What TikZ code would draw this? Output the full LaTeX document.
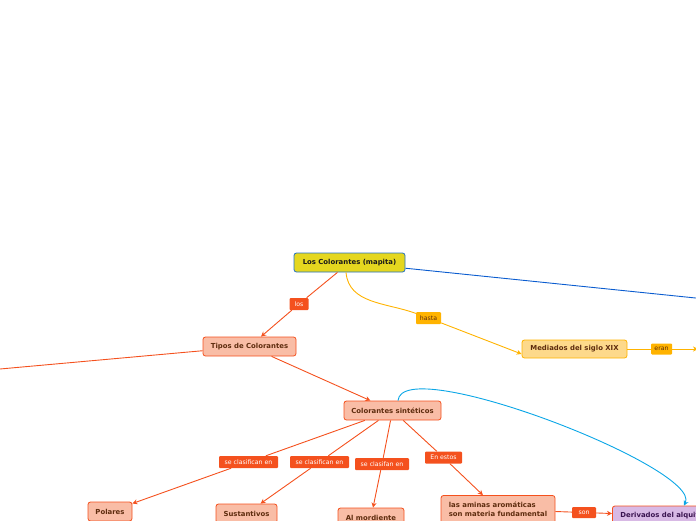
\documentclass[tikz,border=0pt]{standalone}
\usepackage{fontspec}
\setmainfont{DejaVu Sans}
\usetikzlibrary{arrows.meta,positioning}
\definecolor{mapred}{HTML}{F4511E}
\definecolor{mapsalmon}{HTML}{F9BDA6}
\definecolor{mapbrown}{HTML}{5E2C0E}
\definecolor{mapyellow}{HTML}{FFB300}
\definecolor{mapsand}{HTML}{FDD98B}
\definecolor{rootfill}{HTML}{E5D71F}
\definecolor{rootblue}{HTML}{2270C4}
\definecolor{linkblue}{HTML}{0A5CCF}
\definecolor{skyblue}{HTML}{0AA6E6}
\definecolor{lilac}{HTML}{D8B9E5}
\definecolor{plum}{HTML}{3A1450}
\tikzset{topic/.style={rectangle, rounded corners=2.5pt, draw=mapred, fill=mapsalmon,
  line width=0.8pt, inner sep=0pt, minimum height=19pt, align=left,
  font=\fontsize{6.9}{9}\selectfont\bfseries, text=mapbrown}}
\tikzset{rootbox/.style={topic, draw=rootblue, fill=rootfill, text=black!90}}
\tikzset{sandbox/.style={topic, draw=mapyellow, fill=mapsand}}
\tikzset{lilacbox/.style={topic, fill=lilac, text=plum, inner xsep=8pt}}
\tikzset{linklabel/.style={rectangle, rounded corners=1pt, fill=mapred, text=white,
  inner sep=0pt, minimum height=12pt, font=\fontsize{6.2}{7}\selectfont}}
\tikzset{yellowlabel/.style={linklabel, fill=mapyellow, text=mapbrown}}
\tikzset{link/.style={draw=mapred, line width=0.9pt}}
\tikzset{yellowlink/.style={link, draw=mapyellow}}

\begin{document}
\begin{tikzpicture}[x=1pt,y=-1pt,>={Stealth[length=5pt,width=5pt]}]
  \clip (0,0) rectangle (696,520);
  % main topics
  \node[rootbox, minimum width=111pt] (root) at (349.5,262.5) {Los Colorantes (mapita)};
  \node[topic, minimum width=93pt] (tipos) at (249.5,346.5) {Tipos de Colorantes};
  \node[sandbox, minimum width=105pt, minimum height=18pt] (mediados) at (574.5,349) {Mediados del siglo XIX};
  \node[topic, minimum width=97pt] (sinteticos) at (392.5,410.5) {Colorantes sintéticos};
  \node[topic, minimum width=44pt] (polares) at (110,511.5) {Polares};
  \node[topic, minimum width=61pt] (sustantivos) at (246.5,513.5) {Sustantivos};
  \node[topic, minimum width=66pt] (mordiente) at (371,517.5) {Al mordiente};
  \node[topic, minimum width=114pt, minimum height=28pt] (aminas) at (498,509.5)
    {las aminas aromáticas\\son materia fundamental};
  \node[lilacbox, anchor=west] (derivados) at (612,515.5) {Derivados del alquitrán};
  % off-page ends
  \coordinate (offleft) at (-40,372.6);
  \coordinate (offright) at (760,304.6);
  \coordinate (offmid) at (698,349);
  % link labels
  \node[linklabel, minimum width=19pt] (los) at (299,304) {los};
  \node[yellowlabel, minimum width=25pt] (hasta) at (428.5,318) {hasta};
  \node[yellowlabel, minimum width=21pt, minimum height=11pt] (eran) at (661.5,349) {eran};
  \node[linklabel, minimum width=59pt] (clas1) at (248.5,462) {se clasifican en};
  \node[linklabel, minimum width=59pt] (clas2) at (319.5,462) {se clasifican en};
  \node[linklabel, minimum width=54pt] (clas3) at (382,464) {se clasifan en};
  \node[linklabel, minimum width=37pt] (enestos) at (443.5,457.5) {En estos};
  \node[linklabel, minimum width=24pt, minimum height=11pt] (son) at (584,512.5) {son};
  % connectors
  \draw[link] (root) -- (los);
  \draw[link,->] (los) -- (tipos);
  \draw[link] (tipos) -- (offleft);
  \draw[link,->] (tipos) -- (sinteticos);
  \draw[draw=linkblue, line width=0.9pt] (root) -- (offright);
  \draw[yellowlink] ([xshift=-3.5pt]root.south) to[out=-85, in=160] (hasta);
  \draw[yellowlink,->] (hasta) -- ([yshift=-5pt]mediados.west);
  \draw[yellowlink] (mediados) -- (eran);
  \draw[yellowlink,->] (eran) -- (offmid);
  \draw[link] (sinteticos) -- (clas1);
  \draw[link,->] (clas1) -- (polares);
  \draw[link] (sinteticos) -- (clas2);
  \draw[link,->] (clas2) -- (sustantivos);
  \draw[link] (sinteticos) -- (clas3);
  \draw[link,->] (clas3) -- (mordiente);
  \draw[link] (sinteticos) -- (enestos);
  \draw[link,->] (enestos) -- (aminas);
  \draw[link] (aminas) -- (son);
  \draw[link,->] (son) -- (derivados);
  \draw[draw=skyblue, line width=0.9pt, ->] ([xshift=5.5pt]sinteticos.north)
    .. controls (402,352) and (702,468) .. ([xshift=72pt]derivados.north west);
\end{tikzpicture}
\end{document}
